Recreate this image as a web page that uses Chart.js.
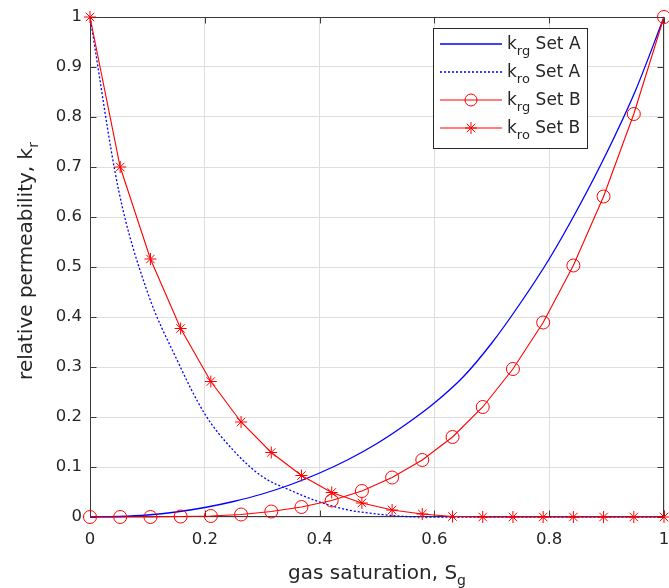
<!DOCTYPE html>
<html>
<head>
<meta charset="utf-8">
<title>relative permeability</title>
<script src="https://cdn.jsdelivr.net/npm/chart.js@4.4.1/dist/chart.umd.min.js"></script>
<style>
  html, body { margin: 0; padding: 0; background: #fff; }
</style>
</head>
<body>
<canvas id="krChart" width="669" height="588"></canvas>
<script>
// Set A (smooth curves, no markers)
var sgA  = [0, 0.05, 0.1, 0.15, 0.2, 0.25, 0.3, 0.35, 0.4, 0.45, 0.5, 0.55, 0.6, 0.65, 0.7, 0.75, 0.8, 0.85, 0.9, 0.95, 1];
var krgA = [0, 0.001, 0.004, 0.010, 0.019, 0.031, 0.046, 0.065, 0.088, 0.115, 0.147, 0.185, 0.228, 0.280, 0.348, 0.428, 0.516, 0.617, 0.728, 0.852, 1];
var kroA = [1, 0.653, 0.450, 0.318, 0.206, 0.133, 0.081, 0.053, 0.030, 0.014, 0.006, 0.001, 0, 0, 0, 0, 0, 0, 0, 0, 0];

// Set B (markers)
var sgB  = [0, 0.0526, 0.1053, 0.1579, 0.2105, 0.2632, 0.3158, 0.3684, 0.4211, 0.4737, 0.5263, 0.5789, 0.6316, 0.6842, 0.7368, 0.7895, 0.8421, 0.8947, 0.9474, 1];
var krgB = [0, 0, 0, 0.001, 0.002, 0.005, 0.011, 0.020, 0.033, 0.052, 0.079, 0.114, 0.160, 0.220, 0.296, 0.389, 0.503, 0.641, 0.806, 1];
var kroB = [1, 0.700, 0.516, 0.377, 0.271, 0.190, 0.129, 0.083, 0.049, 0.028, 0.014, 0.006, 0.001, 0, 0, 0, 0, 0, 0, 0];

// axis ticks
var xTicks = [0, 0.2, 0.4, 0.6, 0.8, 1];
var xTickLabels = ['0', '0.2', '0.4', '0.6', '0.8', '1'];
var yTicks = [0, 0.1, 0.2, 0.3, 0.4, 0.5, 0.6, 0.7, 0.8, 0.9, 1];
var yTickLabels = ['0', '0.1', '0.2', '0.3', '0.4', '0.5', '0.6', '0.7', '0.8', '0.9', '1'];

var FONT = '"DejaVu Sans", "Liberation Sans", Arial, sans-serif';
var TXT = '#262626';
var BLUE = '#0000ff';
var RED = '#ff0000';

function pts(xs, ys) {
    return xs.map(function (x, i) { return { x: x, y: ys[i] }; });
}

// text with one subscript part, e.g. k_rg
function subText(ctx, main, sub, tail, x, y, size, subSize, centered) {
    ctx.font = size + 'px ' + FONT;
    var w1 = ctx.measureText(main).width;
    var w3 = tail ? ctx.measureText(tail).width : 0;
    ctx.font = subSize + 'px ' + FONT;
    var w2 = ctx.measureText(sub).width;
    var start = centered ? x - (w1 + w2 + w3) / 2 : x;
    ctx.textAlign = 'left';
    ctx.textBaseline = 'alphabetic';
    ctx.fillStyle = TXT;
    ctx.font = size + 'px ' + FONT;
    ctx.fillText(main, start, y);
    ctx.font = subSize + 'px ' + FONT;
    ctx.fillText(sub, start + w1, y + 6);
    if (tail) {
        ctx.font = size + 'px ' + FONT;
        ctx.fillText(tail, start + w1 + w2, y);
    }
}

function drawMarker(ctx, style, x, y, r) {
    ctx.beginPath();
    if (style === 'circle') {
        ctx.arc(x, y, r, 0, Math.PI * 2);
    } else {
        var d = r * Math.SQRT1_2;
        ctx.moveTo(x - r, y); ctx.lineTo(x + r, y);
        ctx.moveTo(x, y - r); ctx.lineTo(x, y + r);
        ctx.moveTo(x - d, y - d); ctx.lineTo(x + d, y + d);
        ctx.moveTo(x - d, y + d); ctx.lineTo(x + d, y - d);
    }
    ctx.stroke();
}

// box, inside ticks, legend and axis titles (MATLAB look)
var matlabLook = {
    id: 'matlabLook',
    beforeDatasetsDraw: function (chart) {
        var ctx = chart.ctx, a = chart.chartArea;
        var xs = chart.scales.x, ys = chart.scales.y;
        ctx.save();
        ctx.strokeStyle = '#3a3a3a';
        ctx.lineWidth = 1;
        var L = Math.round(a.left) + 0.5, R = Math.round(a.right) - 0.5;
        var T = Math.round(a.top) + 0.5, B = Math.round(a.bottom) - 0.5;
        ctx.strokeRect(L, T, R - L, B - T);
        ctx.beginPath();
        xTicks.forEach(function (v) {
            var px = Math.round(xs.getPixelForValue(v)) + 0.5;
            ctx.moveTo(px, B); ctx.lineTo(px, B - 6);
            ctx.moveTo(px, T); ctx.lineTo(px, T + 6);
        });
        yTicks.forEach(function (v) {
            var py = Math.round(ys.getPixelForValue(v)) + 0.5;
            ctx.moveTo(L, py); ctx.lineTo(L + 6, py);
            ctx.moveTo(R, py); ctx.lineTo(R - 6, py);
        });
        ctx.stroke();
        ctx.restore();
    },
    afterDraw: function (chart) {
        var ctx = chart.ctx;
        ctx.save();
        // legend
        ctx.fillStyle = '#fff';
        ctx.fillRect(433.5, 28.5, 154, 120);
        ctx.strokeStyle = '#262626';
        ctx.lineWidth = 1;
        ctx.strokeRect(433.5, 28.5, 154, 120);
        var rows = [
            { sub: 'rg', set: ' Set A', color: BLUE, dash: [], marker: null, width: 1.3 },
            { sub: 'ro', set: ' Set A', color: BLUE, dash: [2, 2], marker: null, width: 1.3 },
            { sub: 'rg', set: ' Set B', color: RED, dash: [], marker: 'circle', width: 1.1 },
            { sub: 'ro', set: ' Set B', color: RED, dash: [], marker: 'star', width: 1.1 }
        ];
        rows.forEach(function (r, i) {
            var y = 44 + i * 28;
            ctx.strokeStyle = r.color;
            ctx.lineWidth = r.width;
            ctx.setLineDash(r.dash);
            ctx.beginPath();
            ctx.moveTo(440, y); ctx.lineTo(502, y);
            ctx.stroke();
            ctx.setLineDash([]);
            if (r.marker) {
                ctx.lineWidth = 1;
                drawMarker(ctx, r.marker, 471, y, 6);
            }
            subText(ctx, 'k', r.sub, r.set, 507, y + 5, 17, 13, false);
        });
        // axis titles
        subText(ctx, 'gas saturation, S', 'g', '', 377, 579, 20, 14, true);
        ctx.translate(32, 261);
        ctx.rotate(-Math.PI / 2);
        subText(ctx, 'relative permeability, k', 'r', '', 0, 0, 20, 14, true);
        ctx.restore();
    }
};

var tickFont = { family: FONT, size: 16.5 };

var krChart = new Chart(document.getElementById('krChart'), {
    type: 'scatter',
    data: {
        datasets: [
            {
                label: 'krg Set A', data: pts(sgA, krgA), showLine: true,
                borderColor: BLUE, borderWidth: 1.3, pointRadius: 0,
                cubicInterpolationMode: 'monotone', order: 4, clip: false
            },
            {
                label: 'kro Set A', data: pts(sgA, kroA), showLine: true,
                borderColor: BLUE, borderWidth: 1.3, borderDash: [2, 2], pointRadius: 0,
                cubicInterpolationMode: 'monotone', order: 3, clip: false
            },
            {
                label: 'krg Set B', data: pts(sgB, krgB), showLine: true,
                borderColor: RED, borderWidth: 1.1, tension: 0,
                pointStyle: 'circle', pointRadius: 6.5, pointBorderWidth: 1,
                pointBorderColor: RED, pointBackgroundColor: 'rgba(0,0,0,0)',
                order: 2, clip: false
            },
            {
                label: 'kro Set B', data: pts(sgB, kroB), showLine: true,
                borderColor: RED, borderWidth: 1.1, tension: 0,
                pointStyle: 'star', pointRadius: 6, pointBorderWidth: 1,
                pointBorderColor: RED, pointBackgroundColor: RED,
                order: 1, clip: false
            }
        ]
    },
    options: {
        responsive: false,
        devicePixelRatio: 1,
        animation: false,
        layout: { autoPadding: false, padding: { top: 17, right: 5, left: 0, bottom: 0 } },
        plugins: {
            legend: { display: false },
            tooltip: { enabled: false }
        },
        scales: {
            x: {
                type: 'linear', min: 0, max: 1,
                afterBuildTicks: function (s) { s.ticks = xTicks.map(function (v) { return { value: v }; }); },
                afterFit: function (s) { s.height = 71; s.paddingLeft = 0; s.paddingRight = 0; },
                ticks: {
                    callback: function (v, i) { return xTickLabels[i]; },
                    font: tickFont, color: TXT, padding: 13, maxRotation: 0
                },
                grid: { color: '#dedede', drawTicks: false },
                border: { display: false }
            },
            y: {
                type: 'linear', min: 0, max: 1,
                afterBuildTicks: function (s) { s.ticks = yTicks.map(function (v) { return { value: v }; }); },
                afterFit: function (s) { s.width = 90; s.paddingTop = 0; s.paddingBottom = 0; },
                ticks: {
                    callback: function (v, i) { return yTickLabels[i]; },
                    font: tickFont, color: TXT, padding: 8
                },
                grid: { color: '#dedede', drawTicks: false },
                border: { display: false }
            }
        }
    },
    plugins: [matlabLook]
});
</script>
</body>
</html>
